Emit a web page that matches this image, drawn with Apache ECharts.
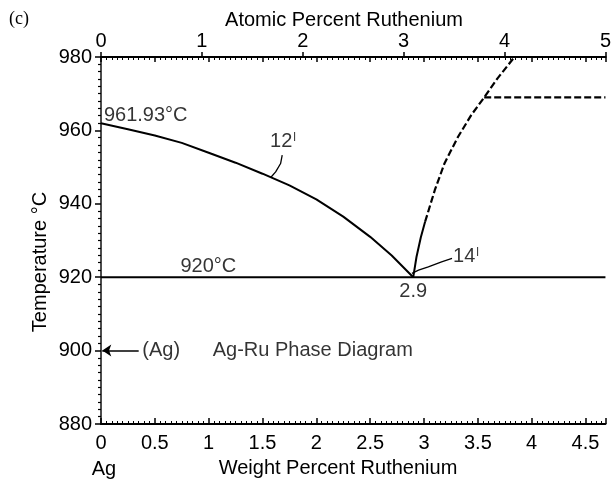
<!DOCTYPE html>
<html>
<head>
<meta charset="utf-8">
<script src="https://cdn.jsdelivr.net/npm/echarts@6/dist/echarts.min.js"></script>
<style>
  html, body { margin: 0; padding: 0; background: #fff; }
  #chart { width: 614px; height: 480px; }
</style>
</head>
<body>
<div id="chart"></div>
<script>
const FONT = "'Liberation Sans', Arial, Helvetica, sans-serif";
const SERIF = "'Liberation Serif', 'Times New Roman', serif";
const FS = 20;

// Axis ranges: weight percent Ru (bottom), atomic percent Ru (top), temperature
const wtRange = [0, 4.685];
const atRange = [0, 5];
const tempRange = [880, 980];

// Liquidus on the Ag side: from the Ag melting point down to the eutectic
const liquidusAgWt = [0, 0.25, 0.5, 0.75, 1.0, 1.25, 1.5, 1.75, 2.0, 2.25, 2.5, 2.7, 2.9];
const liquidusAgT  = [961.93, 960.3, 958.6, 956.6, 953.9, 951.2, 948.2, 945.0, 941.2, 936.5, 931.0, 925.9, 920];

// Liquidus on the Ru side: solid (established) part, then dashed (estimated) part
const liquidusRuWt = [2.9, 2.93, 2.97, 3.01];
const liquidusRuT  = [920, 925.5, 930.8, 935.1];
const liquidusRuDashWt = [3.01, 3.10, 3.19, 3.315, 3.437, 3.559, 3.681, 3.84];
const liquidusRuDashT  = [935.1, 943.7, 951.0, 958.2, 964.1, 969.0, 974.1, 980];

// Dashed horizontal boundary and eutectic isotherm
const upperIsoWt = [3.559, 4.685];
const upperIsoT  = [969, 969];
const eutecticWt = [0, 4.685];
const eutecticT  = [920, 920];

// Leader lines for the curve references
const leader12Wt = [1.683, 1.668, 1.622, 1.576];
const leader12T  = [953.24, 950.98, 948.69, 947.16];
const leader14Wt = [3.26, 3.163, 3.04, 2.949, 2.888];
const leader14T  = [925.11, 924.18, 922.82, 921.91, 921.03];

const zip = (xs, ys) => xs.map((x, i) => [x, ys[i]]);

// Text annotations anchored in data coordinates
const annotations = [
  { at: [0.027, 964.1], text: '961.93°C', align: 'left' },
  { at: [0.997, 922.9], text: '920°C', align: 'center' },
  { at: [2.9, 916.1], text: '2.9', align: 'center' },
  { at: [1.69, 956.9], text: '{n|12}{s|l}', align: 'center' },
  { at: [3.39, 925.6], text: '{n|14}{s|l}', align: 'center' },
  { at: [0.384, 900], text: '(Ag)', align: 'left' },
  { at: [1.967, 900.1], text: 'Ag-Ru Phase Diagram', align: 'center' }
];
// Arrow pointing to the Ag axis
const agArrow = [[0.35, 900], [0.012, 900]];

const black = '#000';
const lineSeries = (name, data, type, width) => ({
  name, type: 'line', data, xAxisIndex: 0, yAxisIndex: 0,
  symbol: 'none', smooth: false, silent: true,
  lineStyle: { color: black, width: width || 2, type: type || 'solid' },
  z: 3
});

const chart = echarts.init(document.getElementById('chart'), null, { renderer: 'canvas' });

const axisLineStyle = { color: black, width: 2 };
const tickStyle = { color: black, width: 1.5 };

chart.setOption({
  animation: false,
  backgroundColor: '#fff',
  grid: { left: 101, right: 1, top: 57, bottom: 56, containLabel: false },
  xAxis: [
    {
      type: 'value', position: 'bottom', min: wtRange[0], max: wtRange[1], interval: 0.5,
      axisLine: { show: true, lineStyle: axisLineStyle },
      axisTick: { show: true, inside: true, length: 6, lineStyle: tickStyle },
      minorTick: { show: true, splitNumber: 10, length: 3, lineStyle: { color: black, width: 1 } },
      axisLabel: { show: true, showMaxLabel: false, margin: 9, color: black, fontSize: FS, fontFamily: FONT },
      splitLine: { show: false }
    },
    {
      type: 'value', position: 'top', min: wtRange[0], max: wtRange[1], interval: 0.5,
      axisLine: { show: true, lineStyle: axisLineStyle },
      axisTick: { show: true, inside: true, length: 5, lineStyle: tickStyle },
      minorTick: { show: true, splitNumber: 10, length: 3, lineStyle: { color: black, width: 1 } },
      axisLabel: { show: false },
      splitLine: { show: false }
    },
    {
      type: 'value', position: 'top', min: atRange[0], max: atRange[1], interval: 1,
      axisLine: { show: true, lineStyle: axisLineStyle },
      axisTick: { show: true, inside: false, length: 5, lineStyle: tickStyle },
      axisLabel: {
        show: true, margin: 6, color: black, fontSize: FS, fontFamily: FONT,
        alignMinLabel: 'center', alignMaxLabel: 'center'
      },
      splitLine: { show: false }
    }
  ],
  yAxis: [
    {
      type: 'value', position: 'left', min: tempRange[0], max: tempRange[1], interval: 20,
      axisLine: { show: true, lineStyle: axisLineStyle },
      axisTick: { show: true, inside: false, length: 6, lineStyle: tickStyle },
      minorTick: { show: true, splitNumber: 10, length: 3, lineStyle: { color: black, width: 1.2 } },
      axisLabel: { show: true, margin: 9, color: black, fontSize: FS, fontFamily: FONT },
      splitLine: { show: false }
    },
    {
      type: 'value', position: 'right', min: tempRange[0], max: tempRange[1],
      axisLine: { show: true, lineStyle: { color: '#666', width: 1.5 } },
      axisTick: { show: false }, axisLabel: { show: false }, splitLine: { show: false }
    }
  ],
  series: [
    lineSeries('eutectic', zip(eutecticWt, eutecticT), 'solid', 2),
    lineSeries('liquidusAg', zip(liquidusAgWt, liquidusAgT), 'solid', 2),
    lineSeries('liquidusRu', zip(liquidusRuWt, liquidusRuT), 'solid', 2),
    lineSeries('liquidusRuDash', zip(liquidusRuDashWt, liquidusRuDashT), [7, 3], 2.2),
    lineSeries('upperIso', zip(upperIsoWt, upperIsoT), [7, 3], 2.2),
    lineSeries('leader12', zip(leader12Wt, leader12T), 'solid', 1.3),
    lineSeries('leader14', zip(leader14Wt, leader14T), 'solid', 1.3),
    {
      name: 'arrow', type: 'line', data: [], xAxisIndex: 0, yAxisIndex: 0,
      markLine: {
        silent: true, symbol: ['none', 'arrow'], symbolSize: [9, 9],
        label: { show: false },
        lineStyle: { color: black, width: 1.5, type: 'solid' },
        data: [[{ coord: agArrow[0] }, { coord: agArrow[1] }]]
      }
    },
    {
      name: 'notes', type: 'scatter', xAxisIndex: 0, yAxisIndex: 0,
      symbolSize: 1, itemStyle: { color: 'rgba(0,0,0,0)' }, silent: true, z: 5,
      data: annotations.map(a => ({
        value: a.at,
        label: {
          show: true, position: 'inside', formatter: a.text, align: a.align, verticalAlign: 'middle',
          color: black, fontSize: FS, fontFamily: FONT,
          rich: {
            n: { fontSize: FS, fontFamily: FONT, color: black },
            s: { fontSize: 12, fontFamily: FONT, color: black, verticalAlign: 'top', padding: [0, 0, 0, 1] }
          }
        }
      }))
    }
  ],
  graphic: [
    { type: 'text', x: 19, y: 19, style: { text: '(c)', font: '18px ' + SERIF, fill: black, align: 'center', verticalAlign: 'middle' } },
    { type: 'text', x: 344, y: 20, style: { text: 'Atomic Percent Ruthenium', font: FS + 'px ' + FONT, fill: black, align: 'center', verticalAlign: 'middle' } },
    { type: 'text', x: 338, y: 468, style: { text: 'Weight Percent Ruthenium', font: FS + 'px ' + FONT, fill: black, align: 'center', verticalAlign: 'middle' } },
    { type: 'text', x: 104, y: 469, style: { text: 'Ag', font: FS + 'px ' + FONT, fill: black, align: 'center', verticalAlign: 'middle' } },
    { type: 'text', x: 40, y: 262, rotation: Math.PI / 2, style: { text: 'Temperature °C', font: FS + 'px ' + FONT, fill: black, align: 'center', verticalAlign: 'middle' } }
  ]
});
</script>
</body>
</html>
